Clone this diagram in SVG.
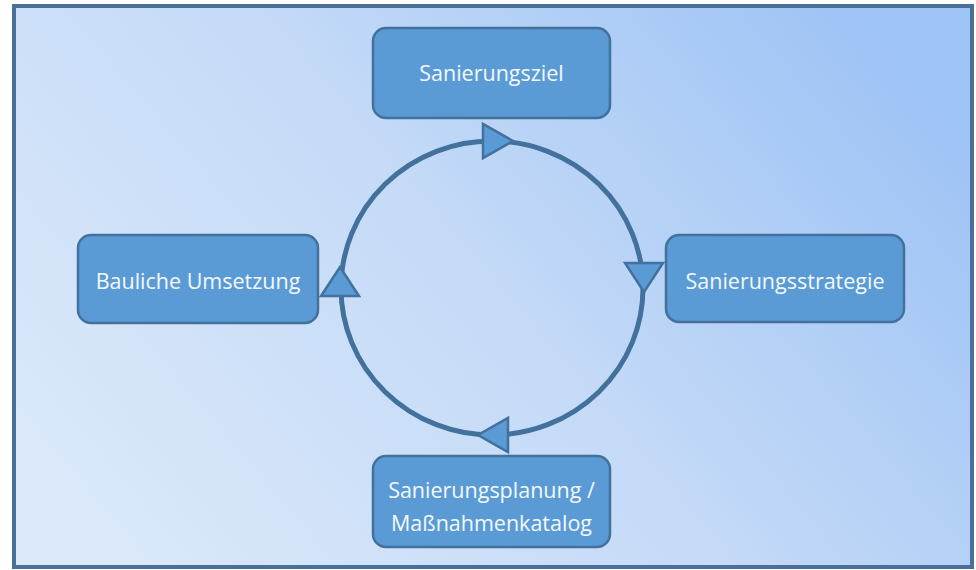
<svg xmlns="http://www.w3.org/2000/svg" width="976" height="570" viewBox="0 0 976 570">
<defs>
<linearGradient id="bg" x1="0" y1="0.75" x2="1" y2="0.25">
<stop offset="0" stop-color="#dae8fa"/>
<stop offset="0.5" stop-color="#c4daf7"/>
<stop offset="1" stop-color="#9ec3f5"/>
</linearGradient>
<style>
.box{fill:#5b9bd5;stroke:#41719c;stroke-width:2.5}
.lbl{font-family:"Open Sans","Liberation Sans",sans-serif;font-size:21.5px;fill:#f4f8fd;text-anchor:middle}
.arc{fill:none;stroke:#41719c;stroke-width:5}
.head{fill:#5b9bd5;stroke:#41719c;stroke-width:2.5;stroke-linejoin:miter}
</style>
</defs>
<rect x="14" y="6" width="958" height="561" fill="url(#bg)" stroke="#4a6f99" stroke-width="4"/>
<g id="connectors">
<ellipse class="arc" cx="492" cy="288" rx="151" ry="147"/>
<polygon class="head" points="483,124 483,158 513,141"/>
<polygon class="head" points="625,263 663,263 644,292"/>
<polygon class="head" points="508,418 508,452 478,435"/>
<polygon class="head" points="321,296 359,296 340,267"/>
</g>
<g id="node-ziel">
<rect class="box" x="373" y="28" width="237" height="90" rx="13"/>
<text class="lbl" x="491.5" y="81">Sanierungsziel</text>
</g>
<g id="node-strategie">
<rect class="box" x="666" y="235" width="238" height="87" rx="13"/>
<text class="lbl" x="785" y="289">Sanierungsstrategie</text>
</g>
<g id="node-planung">
<rect class="box" x="373" y="456" width="237" height="91" rx="13"/>
<text class="lbl" x="491.5" y="498">Sanierungsplanung /</text>
<text class="lbl" x="491.5" y="531">Maßnahmenkatalog</text>
</g>
<g id="node-umsetzung">
<rect class="box" x="78" y="235" width="240" height="88" rx="13"/>
<text class="lbl" x="198" y="289">Bauliche Umsetzung</text>
</g>
</svg>
